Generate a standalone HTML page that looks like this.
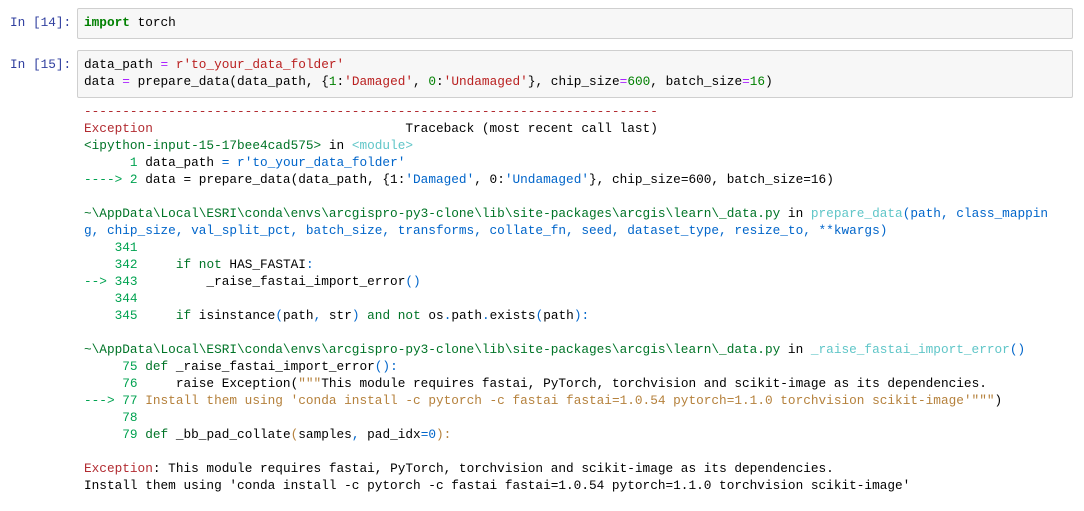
<!DOCTYPE html>
<html><head><meta charset="utf-8"><style>
body{margin:0;background:#fff;width:1084px;height:511px;overflow:hidden;position:relative;font-family:"Liberation Mono","DejaVu Sans Mono",monospace;font-size:12.75px;color:#000}
.p{position:absolute;left:10px;color:#303F9F;white-space:pre;line-height:17px}
.box{position:absolute;left:77px;width:994px;background:#f7f7f7;border:1px solid #cfcfcf;border-radius:2px}
.l{position:absolute;left:84px;white-space:pre;line-height:17px}
.k{color:#008000;font-weight:bold}.s{color:#BA2121}.o{color:#AA22FF}.n{color:#008000}
.r{color:#b22b31}.g{color:#007427}.G{color:#00a250}.c{color:#60c6c8}.b{color:#0065ca}.y{color:#b5813c}.kg{color:#007427}
</style></head><body>
<div class="box" style="top:8px;height:29px"></div>
<div class="box" style="top:50px;height:46px"></div>
<div class="p" style="top:14px">In [14]:</div>
<div class="p" style="top:56px">In [15]:</div>
<div class="l" style="top:14px"><span class="k">import</span> torch</div>
<div class="l" style="top:56px">data_path <span class="o">=</span> <span class="s">r'to_your_data_folder'</span></div>
<div class="l" style="top:73px">data <span class="o">=</span> prepare_data(data_path, {<span class="n">1</span>:<span class="s">'Damaged'</span>, <span class="n">0</span>:<span class="s">'Undamaged'</span>}, chip_size<span class="o">=</span><span class="n">600</span>, batch_size<span class="o">=</span><span class="n">16</span>)</div>
<div class="l r" style="top:103px">---------------------------------------------------------------------------</div>
<div class="l" style="top:120px"><span class="r">Exception</span>                                 Traceback (most recent call last)</div>
<div class="l" style="top:137px"><span class="g">&lt;ipython-input-15-17bee4cad575&gt;</span> in <span class="c">&lt;module&gt;</span></div>
<div class="l" style="top:154px"><span class="G">      1</span> data_path <span class="b">=</span> <span class="b">r'to_your_data_folder'</span></div>
<div class="l" style="top:171px"><span class="G">----&gt; 2</span> data = prepare_data(data_path, {1:<span class="b">'Damaged'</span>, 0:<span class="b">'Undamaged'</span>}, chip_size=600, batch_size=16)</div>
<div class="l" style="top:205px"><span class="g">~\AppData\Local\ESRI\conda\envs\arcgispro-py3-clone\lib\site-packages\arcgis\learn\_data.py</span> in <span class="c">prepare_data</span><span class="b">(path, class_mappin</span></div>
<div class="l b" style="top:222px">g, chip_size, val_split_pct, batch_size, transforms, collate_fn, seed, dataset_type, resize_to, **kwargs)</div>
<div class="l" style="top:239px"><span class="G">    341</span></div>
<div class="l" style="top:256px"><span class="G">    342</span>     <span class="kg">if</span> <span class="kg">not</span> HAS_FASTAI<span class="b">:</span></div>
<div class="l" style="top:273px"><span class="G">--&gt; 343</span>         _raise_fastai_import_error<span class="b">()</span></div>
<div class="l" style="top:290px"><span class="G">    344</span></div>
<div class="l" style="top:307px"><span class="G">    345</span>     <span class="kg">if</span> isinstance<span class="b">(</span>path<span class="b">,</span> str<span class="b">)</span> <span class="kg">and</span> <span class="kg">not</span> os<span class="b">.</span>path<span class="b">.</span>exists<span class="b">(</span>path<span class="b">):</span></div>
<div class="l" style="top:341px"><span class="g">~\AppData\Local\ESRI\conda\envs\arcgispro-py3-clone\lib\site-packages\arcgis\learn\_data.py</span> in <span class="c">_raise_fastai_import_error</span><span class="b">()</span></div>
<div class="l" style="top:358px"><span class="G">     75</span> <span class="kg">def</span> _raise_fastai_import_error<span class="b">():</span></div>
<div class="l" style="top:375px"><span class="G">     76</span>     raise Exception(<span class="y">"""</span>This module requires fastai, PyTorch, torchvision and scikit-image as its dependencies.</div>
<div class="l" style="top:392px"><span class="G">---&gt; 77</span> <span class="y">Install them using 'conda install -c pytorch -c fastai fastai=1.0.54 pytorch=1.1.0 torchvision scikit-image'"""</span>)</div>
<div class="l" style="top:409px"><span class="G">     78</span></div>
<div class="l" style="top:426px"><span class="G">     79</span> <span class="kg">def</span> _bb_pad_collate<span class="y">(</span>samples<span class="b">,</span> pad_idx<span class="b">=0</span><span class="y">):</span></div>
<div class="l" style="top:460px"><span class="r">Exception</span>: This module requires fastai, PyTorch, torchvision and scikit-image as its dependencies.</div>
<div class="l" style="top:477px">Install them using 'conda install -c pytorch -c fastai fastai=1.0.54 pytorch=1.1.0 torchvision scikit-image'</div>
</body></html>
